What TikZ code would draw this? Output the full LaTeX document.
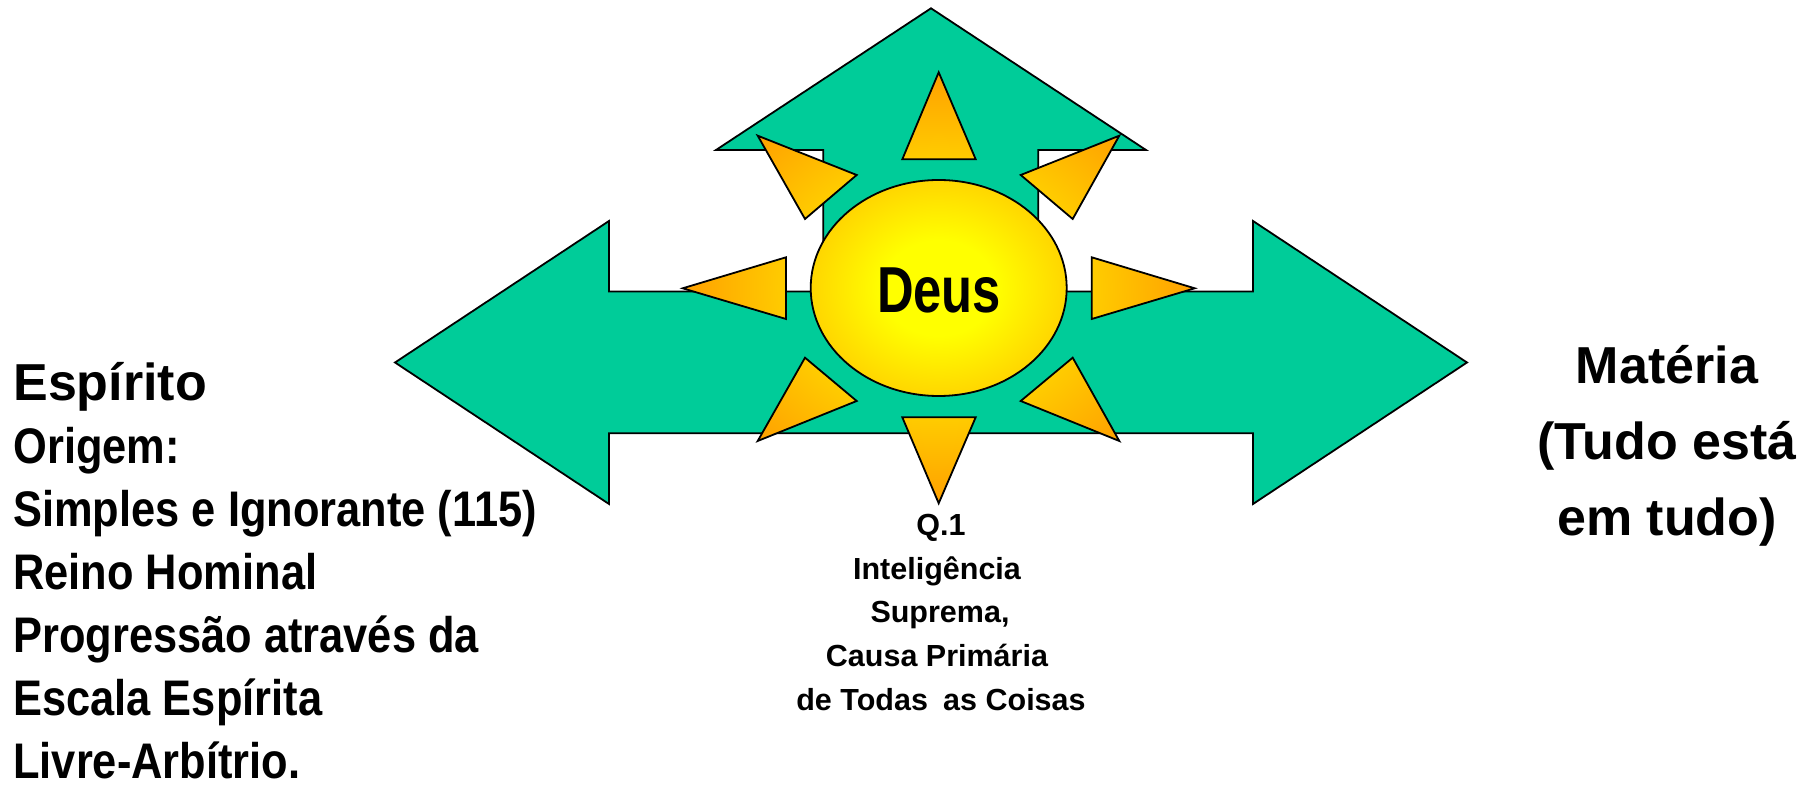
\documentclass[tikz,border=0pt]{standalone}
\usepackage{fontspec}
\usepackage{graphicx}
\setmainfont{Liberation Sans}
\usetikzlibrary{shapes.geometric}
\definecolor{arrowgreen}{RGB}{0,204,153}
\definecolor{sunyellow}{RGB}{255,255,0}
\definecolor{raymid}{RGB}{255,204,0}
\definecolor{raytip}{RGB}{255,160,0}
\definecolor{ellgold}{RGB}{255,214,0}
\pgfdeclareradialshading{raysh}{\pgfpoint{0bp}{0bp}}{color(0bp)=(sunyellow); color(15bp)=(raymid); color(25bp)=(raytip); color(50bp)=(raytip)}
\pgfdeclareradialshading{ellsh}{\pgfpoint{0bp}{0bp}}{color(0bp)=(sunyellow); color(11bp)=(sunyellow); color(25bp)=(ellgold); color(50bp)=(ellgold)}
\newcommand\bigtxt{\bfseries\fontsize{26pt}{30pt}\selectfont}
\newcommand\midtxt{\bfseries\fontsize{25pt}{30pt}\selectfont}
\newcommand\smalltxt{\bfseries\fontsize{15.25pt}{18pt}\selectfont}
\newcommand\nar[1]{\scalebox{0.868}[1]{#1}}
\begin{document}
\begin{tikzpicture}[x=0.5pt,y=-0.5pt,
  outl/.style={draw=black,line width=0.9pt},
  lefttxt/.style={inner sep=0pt,anchor=base west},
  centtxt/.style={inner sep=0pt,anchor=base}]
\useasboundingbox (0,0) rectangle (1811,790);
% green arrows
\path[outl,fill=arrowgreen] (395,362.5) -- (609,221) -- (609,291.5) -- (823.3,291.5)
  -- (823.3,150) -- (716,150) -- (931,8.3) -- (1146,150) -- (1038.3,150)
  -- (1038.3,291.5) -- (1253,291.5) -- (1253,221) -- (1467,362.5) -- (1253,504)
  -- (1253,433.3) -- (609,433.3) -- (609,504) -- cycle;
% sun rays
\path[outl,shading=raysh]
  (938.7,72.3) -- (975.7,159.3) -- (902.3,159.3) -- cycle
  (757.7,135.7) -- (856.7,175) -- (805,219) -- cycle
  (1119.3,135.7) -- (1020.7,175) -- (1072.7,219) -- cycle
  (682.7,288.3) -- (786,257.3) -- (786,319) -- cycle
  (1194.7,288.3) -- (1091.7,257.3) -- (1091.7,319) -- cycle
  (805,357.7) -- (856.7,401) -- (757.7,441) -- cycle
  (1072.7,357.7) -- (1020.7,401) -- (1119.3,441) -- cycle
  (902.3,417.3) -- (975.7,417.3) -- (938.7,503.3) -- cycle;
% sun disc
\node[ellipse,outl,shading=ellsh,minimum width=128pt,minimum height=108pt,inner sep=0pt] (sun) at (938.7,288) {};
\node[centtxt,font=\bfseries\fontsize{32.5pt}{36pt}\selectfont] (deus) at (939,313) {\scalebox{0.78}[1]{Deus}};
% left text
\node[lefttxt,font=\bigtxt] (esp) at (13,401) {Espírito};
\node[lefttxt,font=\midtxt] (ori) at (13,464) {\nar{Origem:}};
\node[lefttxt,font=\midtxt] (sim) at (13,527) {\nar{Simples e Ignorante (115)}};
\node[lefttxt,font=\midtxt] (rei) at (13,590) {\nar{Reino Hominal}};
\node[lefttxt,font=\midtxt] (pro) at (13,653) {\nar{Progressão através da}};
\node[lefttxt,font=\midtxt] (esc) at (13,716) {\nar{Escala Espírita}};
\node[lefttxt,font=\midtxt] (liv) at (13,779) {\nar{Livre-Arbítrio.}};
% right text
\node[centtxt,font=\bigtxt] (mat) at (1667,384) {Matéria};
\node[centtxt,font=\bigtxt] (tud) at (1667,460) {(Tudo está};
\node[centtxt,font=\bigtxt] (emt) at (1667,536) {em tudo)};
% bottom text
\node[centtxt,font=\smalltxt] (q1) at (941,536) {Q.1};
\node[centtxt,font=\smalltxt] (int) at (937,580) {Inteligência};
\node[centtxt,font=\smalltxt] (sup) at (940,623) {Suprema,};
\node[centtxt,font=\smalltxt] (cau) at (937,667) {Causa Primária};
\node[centtxt,font=\smalltxt] (tod) at (941,711) {de Todas\enspace as Coisas};
\end{tikzpicture}
\end{document}
